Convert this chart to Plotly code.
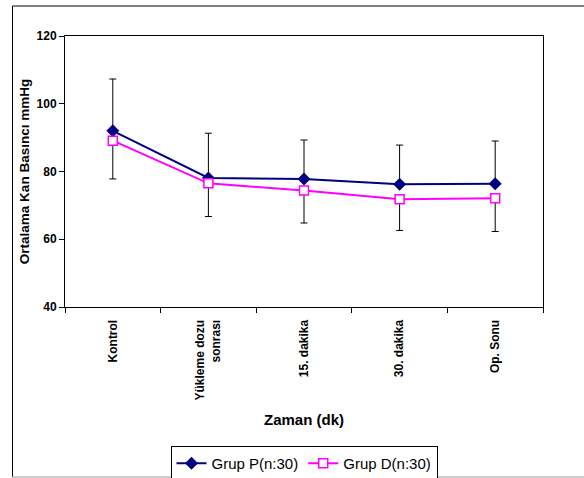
import plotly.graph_objects as go

categories = ["Kontrol", "Yükleme dozu<br>sonrası", "15. dakika", "30. dakika", "Op. Sonu"]
grup_p = [92.0, 78.1, 77.8, 76.2, 76.4]
grup_p_sd = [15.3, 13.2, 11.5, 11.6, 12.6]
grup_d = [89.1, 76.5, 74.4, 71.8, 72.1]
grup_d_sd = [11.3, 9.8, 9.6, 9.2, 9.8]

W, H = 584, 478
ML, MR, MT, MB = 65, 41, 36, 171
pw, ph = W - ML - MR, H - MT - MB

def px(x):
    return (x - ML) / pw

def py(y):
    return (H - MB - y) / ph

font = "Arial, Liberation Sans, sans-serif"

fig = go.Figure()
fig.add_trace(go.Scatter(
    x=categories, y=grup_p, name="Grup P(n:30)", mode="lines+markers",
    line=dict(color="#000080", width=2),
    marker=dict(symbol="diamond", size=10, color="#000080"),
    error_y=dict(type="data", array=grup_p_sd, arrayminus=[0]*5, symmetric=False,
                 color="black", thickness=1, width=3.5),
))
fig.add_trace(go.Scatter(
    x=categories, y=grup_d, name="Grup D(n:30)", mode="lines+markers",
    line=dict(color="#FF00FF", width=2),
    marker=dict(symbol="square", size=9, color="white", line=dict(color="#FF00FF", width=1.5)),
    error_y=dict(type="data", array=[0]*5, arrayminus=grup_d_sd, symmetric=False,
                 color="black", thickness=1, width=3.5),
))

fig.update_layout(
    width=W, height=H,
    margin=dict(l=ML, r=MR, t=MT, b=MB, autoexpand=False),
    paper_bgcolor="white", plot_bgcolor="white",
    font=dict(family=font, color="black"),
    showlegend=True,
    legend=dict(orientation="h", x=0.5, xanchor="center", y=py(446), yanchor="top",
                bordercolor="black", borderwidth=1, font=dict(size=15, family=font),
                itemwidth=30, tracegroupgap=0),
    xaxis=dict(
        type="category", range=[-0.5, 4.5], tickson="boundaries", ticks="outside", ticklen=5,
        tickcolor="black", showline=True, linecolor="black", linewidth=1, mirror=True,
        showgrid=False, tickangle=-90, automargin=False, ticklabelstandoff=7,
        tickfont=dict(size=12, family=font, weight="bold"),
        title=dict(text="<b>Zaman (dk)</b>", font=dict(size=15, family=font), standoff=15),
    ),
    yaxis=dict(
        range=[40, 120], dtick=20, ticks="outside", ticklen=5, tickcolor="black",
        showline=True, linecolor="black", linewidth=1, mirror=True, showgrid=False,
        zeroline=False, automargin=False,
        tickfont=dict(size=12, family=font, weight="bold"),
        title=dict(text="<b>Ortalama Kan Basıncı mmHg</b>", font=dict(size=13.5, family=font), standoff=3),
    ),
    shapes=[
        dict(type="line", xref="paper", yref="paper", x0=px(12.5), x1=px(12.5), y0=py(6), y1=py(477),
             line=dict(color="black", width=1)),
        dict(type="line", xref="paper", yref="paper", x0=px(12.5), x1=px(590), y0=py(6), y1=py(6),
             line=dict(color="black", width=1)),
        dict(type="line", xref="paper", yref="paper", x0=px(12.5), x1=px(590), y0=py(477), y1=py(477),
             line=dict(color="#BBBBBB", width=1.5)),
    ],
)

fig.write_html("out.html", config={"displayModeBar": False},
               post_script="document.body.style.margin='0';document.body.style.overflow='hidden';")
